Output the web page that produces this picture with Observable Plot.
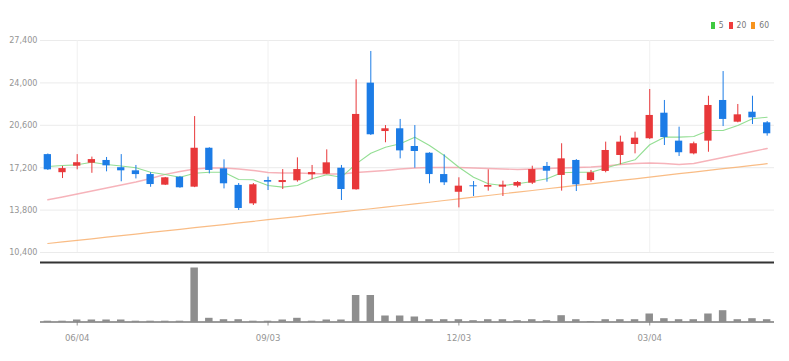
<!DOCTYPE html>
<html><head><meta charset="utf-8">
<script src="https://cdn.jsdelivr.net/npm/d3@7"></script>
<script src="https://cdn.jsdelivr.net/npm/@observablehq/plot@0.6"></script>
<style>
body{margin:0;background:#fff;}
#wrap{position:relative;width:789px;height:361px;overflow:hidden;font-family:"Liberation Sans Narrow","DejaVu Sans Condensed","Roboto",sans-serif;}
#top,#vol{position:absolute;left:0;}
#top{top:0;}
#vol{top:261px;}
#legend{position:absolute;top:20px;right:18px;font-size:8.5px;color:#777;display:flex;align-items:center;gap:3px;z-index:5;line-height:10px;font-stretch:condensed;}
#legend i{display:inline-block;width:4px;height:7px;margin-right:1px;}
#legend span{margin-right:2px;}
svg text{font-stretch:condensed;}
</style></head>
<body>
<div id="wrap">
  <div id="top"></div>
  <div id="vol"></div>
  <div id="legend"></div>
</div>
<script>
const dates = ["2018-05-21","2018-05-28","2018-06-04","2018-06-11","2018-06-18","2018-06-25","2018-07-02","2018-07-09","2018-07-16","2018-07-23",
"2018-07-30","2018-08-06","2018-08-13","2018-08-20","2018-08-27","2018-09-03","2018-09-10","2018-09-17","2018-09-24","2018-10-01",
"2018-10-08","2018-10-15","2018-10-22","2018-10-29","2018-11-05","2018-11-12","2018-11-19","2018-11-26","2018-12-03","2018-12-10",
"2018-12-17","2018-12-24","2018-12-31","2019-01-07","2019-01-14","2019-01-21","2019-01-28","2019-02-04","2019-02-11","2019-02-18",
"2019-02-25","2019-03-04","2019-03-11","2019-03-18","2019-03-25","2019-04-01","2019-04-08","2019-04-15","2019-04-22","2019-04-29"];
const opens  = [18250,16800,17320,17560,17780,17200,16950,16650,15800,16440,15640,18760,17110,15780,14300,16170,16010,16150,16630,16680,17160,15430,23980,20100,20320,18900,18360,16650,15230,15750,15640,15640,15720,15960,17300,16580,17780,16170,16900,18180,19060,19520,21570,19330,18310,19330,22590,20850,21650,20800];
const highs  = [18300,17300,18250,18050,18020,18250,17380,16800,16420,16500,21300,18800,17830,15930,15930,16440,17050,17990,17380,18630,17380,24250,26520,20580,21070,20580,18400,18230,16390,16090,17030,16120,16090,17320,17620,19120,17850,16980,19250,19730,20050,23470,22590,20450,19250,22930,24910,22270,22930,20900];
const lows   = [16980,16330,17030,16750,16870,16070,16300,15630,15770,15550,15600,16700,15500,13770,14170,15370,15450,16040,16230,16650,14570,15400,19780,19200,17910,17160,15910,15770,13980,14890,15320,14890,15590,15850,16040,15320,15290,16040,16790,17430,18310,19460,18980,18100,18230,18440,20500,20800,20660,19730];
const closes = [17030,17130,17600,17850,17350,16950,16650,15850,16390,15590,18760,16980,15910,13930,15830,16040,16170,17050,16810,17590,15450,21470,19840,20320,18550,18500,16650,15990,15720,15670,15770,15800,16010,17050,16920,17910,15830,16790,18580,19250,19570,21390,19620,18400,19120,22190,21070,21440,21200,19920];
const volumes = [80,80,200,200,200,200,80,80,80,80,5400,370,230,230,80,80,200,370,80,200,200,2650,2650,600,600,500,230,230,230,130,230,230,130,230,130,630,230,50,230,230,230,800,330,230,230,800,1130,230,330,230];
const ma5  = [17300,17380,17430,17640,17460,17340,17190,16840,16660,16440,16760,16840,16840,16250,16230,15770,15640,15770,16310,16630,16440,17510,18360,18840,19120,19650,18980,18180,17240,16440,15910,15770,15910,16090,16310,16790,16840,16840,17180,17510,17830,19040,19650,19650,19700,20180,20180,20580,21120,21250];
const ma20 = [14630,14850,15090,15330,15570,15810,16050,16330,16660,16900,17100,17180,17180,17100,16980,16820,16780,16780,16740,16700,16700,16820,16900,16980,17100,17180,17220,17220,17220,17180,17140,17100,17060,17100,17140,17180,17220,17260,17340,17460,17540,17580,17540,17460,17540,17780,18020,18260,18500,18740];
const ma60 = [11120,11250,11370,11500,11630,11760,11880,12010,12140,12260,12390,12520,12640,12770,12900,13030,13150,13280,13410,13530,13660,13790,13910,14040,14170,14300,14430,14570,14700,14840,14970,15110,15240,15370,15510,15640,15780,15910,16040,16180,16310,16450,16580,16720,16850,16980,17120,17250,17380,17520];
const yTicks = [10400,13800,17200,20600,24000,27400];
const xTicks = ["2018-06-04","2018-09-03","2018-12-03","2019-03-04"];
const legendItems = [["5","#3fc93f"],["20","#f03c3c"],["60","#f7941d"]];

const RED = "#e8383a", BLUE = "#1c7ce6";
const rows = dates.map((d,i)=>({date:d,open:opens[i],high:highs[i],low:lows[i],close:closes[i],vol:volumes[i],ma5:ma5[i],ma20:ma20[i],ma60:ma60[i]}));
const col = d => d.close >= d.open ? RED : BLUE;
const font = '"Liberation Sans Narrow","DejaVu Sans Condensed",sans-serif';

const topPlot = Plot.plot({
  width:789, height:262, marginLeft:40, marginRight:15, marginTop:40, marginBottom:10,
  style:{fontFamily:font, fontSize:"9px", color:"#959595", background:"white"},
  x:{type:"band", domain:dates, padding:0, axis:null},
  y:{domain:[10400,27400], ticks:yTicks, tickFormat:d3.format(","), tickSize:0, tickPadding:3, label:null},
  marks:[
    Plot.ruleY(yTicks, {stroke:"#ebebeb", strokeWidth:1}),
    Plot.ruleX(xTicks, {x:d=>d, stroke:"#f0f0f0", strokeWidth:1}),
    Plot.lineY(rows, {x:"date", y:"ma60", stroke:"#f8b070", strokeWidth:1.2, strokeOpacity:0.85}),
    Plot.lineY(rows, {x:"date", y:"ma20", stroke:"#f39aa3", strokeWidth:1.4, strokeOpacity:0.75}),
    Plot.lineY(rows, {x:"date", y:"ma5", stroke:"#8ddc8d", strokeWidth:1.1, strokeOpacity:0.95}),
    Plot.ruleX(rows, {x:"date", y1:"low", y2:"high", stroke:col, strokeWidth:1}),
    Plot.barY(rows, {x:"date", y1:"open", y2:"close", fill:col, insetLeft:3.7, insetRight:3.7})
  ]
});
document.getElementById("top").appendChild(topPlot);

const volMax = 5950;
const volPlot = Plot.plot({
  width:789, height:100, marginLeft:40, marginRight:15, marginTop:1, marginBottom:39.5,
  style:{fontFamily:font, fontSize:"9.5px", color:"#959595", background:"white"},
  x:{type:"band", domain:dates, padding:0, ticks:xTicks, tickFormat:d=>d.slice(5,7)+"/"+d.slice(8,10), tickSize:4, tickPadding:8, label:null},
  y:{domain:[0,volMax], axis:null},
  marks:[
    Plot.ruleY([volMax], {stroke:"#333", strokeWidth:2}),
    Plot.barY(rows, {x:"date", y:"vol", fill:"#8e8e8e", insetLeft:3.6, insetRight:3.6}),
    Plot.ruleY([0], {stroke:"#7a7a7a", strokeWidth:1.5})
  ]
});
document.getElementById("vol").appendChild(volPlot);

const lg = document.getElementById("legend");
legendItems.forEach(([t,c])=>{
  const i = document.createElement("i"); i.style.background = c; lg.appendChild(i);
  const s = document.createElement("span"); s.textContent = t; lg.appendChild(s);
});
</script>
</body></html>
